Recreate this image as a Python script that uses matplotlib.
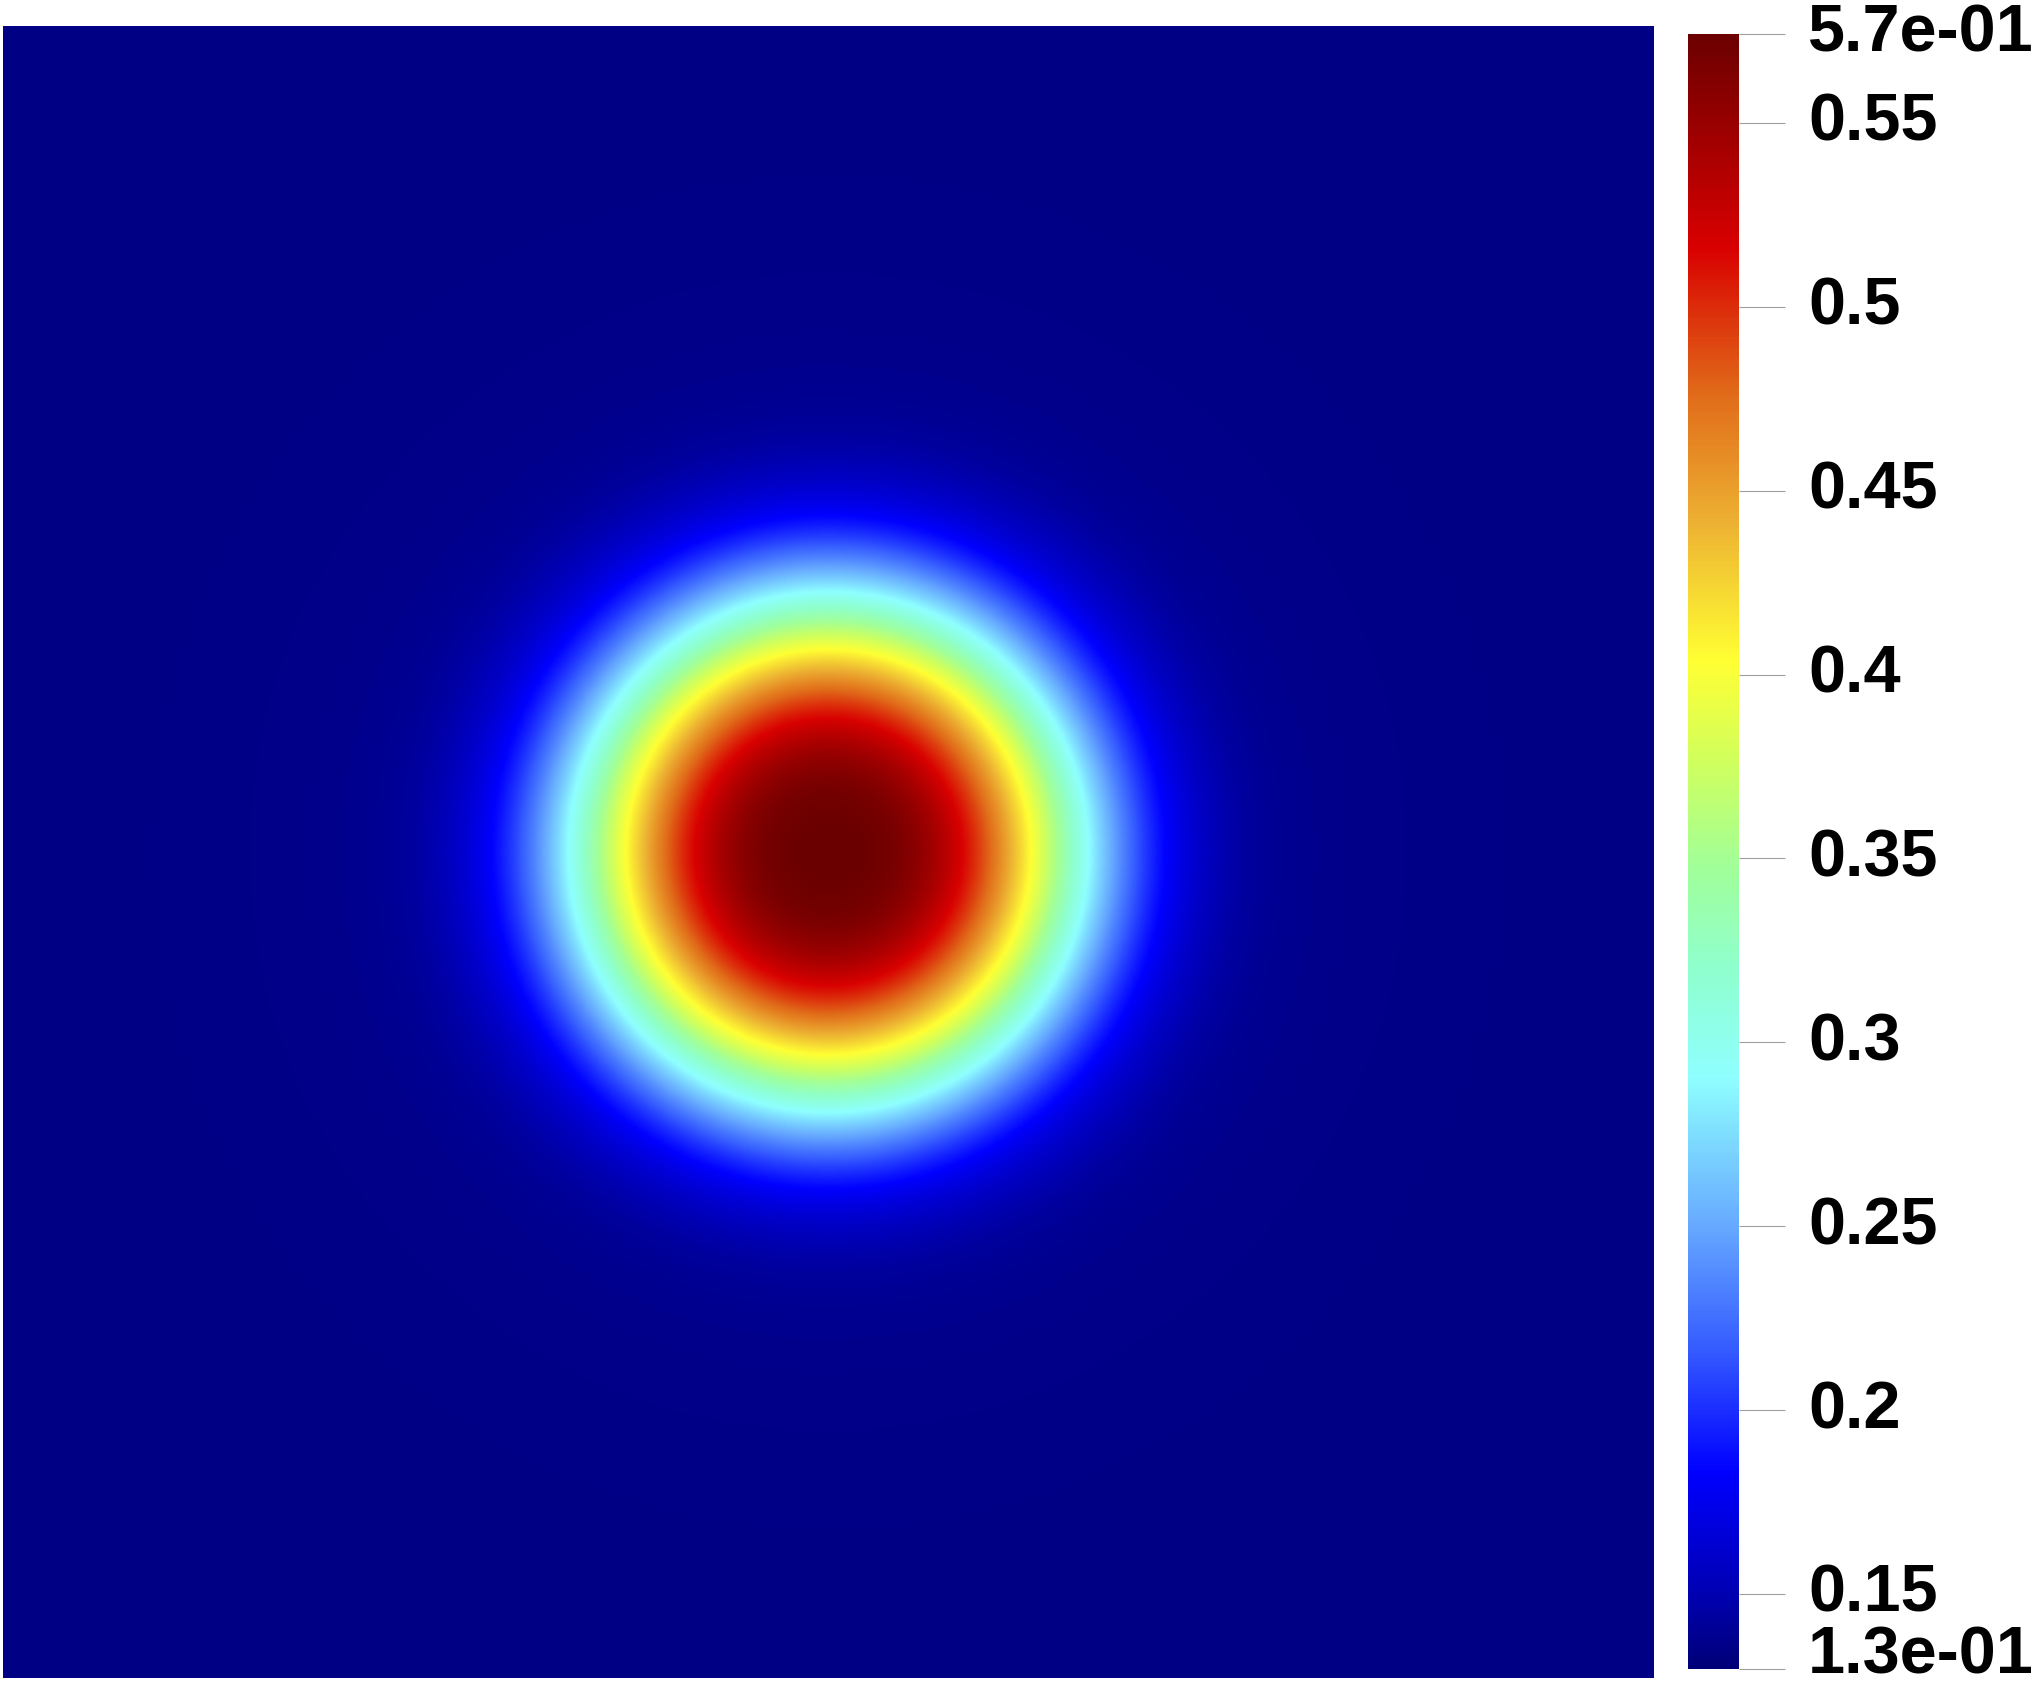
import numpy as np
import matplotlib
matplotlib.use("Agg")
import matplotlib.pyplot as plt
from matplotlib.colors import LinearSegmentedColormap
from matplotlib import transforms

# field: flat background with a round bump in the middle
fundo = 0.134        # value far from the bump
pico = 0.5742        # value at the centre
centro = (0.5, 0.5)  # bump centre, fraction of the square
raio = 0.155         # radius scale, fraction of the square side
expoente = 3.0       # sharpness of the bump edge
halo_amp = 0.012     # weak wide glow around the bump
halo_raio = 0.25

vmin, vmax = 0.1296, 0.5742
ticks = [0.5742, 0.55, 0.5, 0.45, 0.4, 0.35, 0.3, 0.25, 0.2, 0.15, 0.1296]
rotulos = ['5.7e-01', '0.55', '0.5', '0.45', '0.4', '0.35', '0.3',
           '0.25', '0.2', '0.15', '1.3e-01']

# jet-like colours as seen on the colour bar
cores = [
    (0.00, (0.00, 0.00, 0.47)),
    (0.05, (0.00, 0.00, 0.72)),
    (0.12, (0.00, 0.00, 1.00)),
    (0.20, (0.22, 0.38, 1.00)),
    (0.27, (0.40, 0.66, 1.00)),
    (0.362, (0.56, 1.00, 1.00)),
    (0.43, (0.56, 1.00, 0.80)),
    (0.49, (0.63, 1.00, 0.60)),
    (0.55, (0.80, 1.00, 0.38)),
    (0.617, (1.00, 1.00, 0.20)),
    (0.70, (0.93, 0.70, 0.20)),
    (0.78, (0.88, 0.42, 0.10)),
    (0.87, (0.85, 0.00, 0.00)),
    (1.00, (0.42, 0.00, 0.00)),
]
jet_pv = LinearSegmentedColormap.from_list('jet_pv', cores, N=512)

n = 800
x = np.linspace(0, 1, n)
X, Y = np.meshgrid(x, x)
R = np.hypot(X - centro[0], Y - centro[1])
campo = (fundo
         + (pico - fundo - halo_amp) * np.exp(-(R / raio) ** expoente)
         + halo_amp * np.exp(-(R / halo_raio) ** 2))

W, H = 2040, 1691
fig = plt.figure(figsize=(W / 100, H / 100), dpi=100)

ax = fig.add_axes([3 / W, (H - 1678) / H, 1651 / W, 1652 / H])
im = ax.imshow(campo, cmap=jet_pv, vmin=vmin, vmax=vmax, extent=[0, 1, 0, 1],
               origin='lower', interpolation='bilinear', aspect='auto')
ax.set_axis_off()

cax = fig.add_axes([1688 / W, (H - 1669) / H, 51 / W, 1635 / H])
cb = fig.colorbar(im, cax=cax, ticks=ticks)
cb.outline.set_visible(False)
cax.tick_params(length=33, width=0.8, color='#a0a0a0', labelright=False)
cax.set_ylim(vmin, vmax)

for v, r in zip(ticks, rotulos):
    dy = -18 if v > vmin else -5
    trans = transforms.blended_transform_factory(
        fig.transFigure,
        transforms.offset_copy(cax.transData, fig=fig, x=0, y=dy, units='dots'))
    fig.text(1808 / W, v, r, transform=trans, ha='left', va='baseline',
             fontsize=48, fontweight='bold', family='Liberation Sans', color='black')

fig.savefig('out.png', dpi=100)
